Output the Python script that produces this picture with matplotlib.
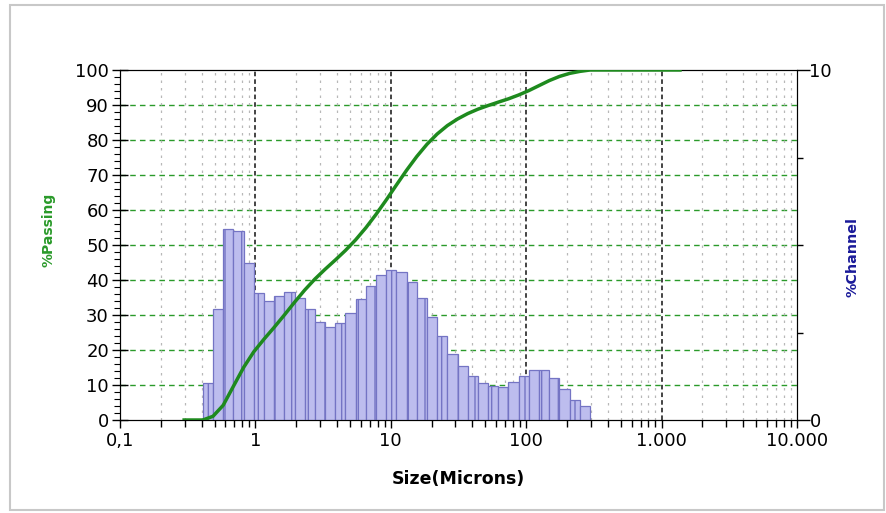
import numpy as np
import matplotlib
matplotlib.use("Agg")
from matplotlib import pyplot as plt
from matplotlib.patches import Rectangle

plt.rcParams['font.family'] = ['DejaVu Sans']
plt.rcParams['hatch.color'] = '#9a9ad6'

# channel edges (microns), fourth-root-of-2 series
edges = [0.409, 0.486, 0.578, 0.688, 0.818, 0.972, 1.156, 1.375, 1.635, 1.945,
         2.312, 2.75, 3.27, 3.889, 4.625, 5.5, 6.541, 7.778, 9.25, 11,
         13.08, 15.56, 18.5, 22, 26.16, 31.11, 37, 44, 52.33, 62.23,
         74, 88, 104.7, 124.5, 148, 176, 209.3, 248.9, 296]
# % in each channel
channel = [1.06, 3.16, 5.46, 5.40, 4.48, 3.62, 3.40, 3.54, 3.67, 3.50,
           3.16, 2.81, 2.65, 2.76, 3.05, 3.45, 3.84, 4.14, 4.30, 4.24,
           3.95, 3.50, 2.95, 2.41, 1.90, 1.55, 1.26, 1.05, 0.98, 0.95,
           1.10, 1.27, 1.43, 1.43, 1.19, 0.88, 0.57, 0.40]
line_start = 0.289
line_end = 1408

xtick_pos = [0.1, 1, 10, 100, 1000, 10000]
xtick_lab = ['0,1', '1', '10', '100', '1.000', '10.000']

edges_a = np.array(edges)
chan_a = np.array(channel)
passing = np.concatenate([[0], np.cumsum(chan_a)]) / chan_a.sum() * 100
line_x = np.concatenate([[line_start], edges_a, [line_end]])
line_y = np.concatenate([[0], passing, [100]])

fig = plt.figure(figsize=(8.87, 5.13), dpi=100)
fig.patches.append(Rectangle((10 / 887, 3 / 513), 874 / 887, 505 / 513, transform=fig.transFigure,
                             fill=False, edgecolor='#c8c8c8', linewidth=1.5))

ax = fig.add_axes([120 / 887, 1 - 420 / 513, 677 / 887, 350 / 513])
ax.set_xscale('log')
ax.set_xlim(0.1, 10000)
ax.set_ylim(0, 100)

# grid, drawn behind the bars
for v in range(10, 100, 10):
    ax.axhline(v, color='#2a9a2a', lw=1, ls=(0, (4, 3)), zorder=0)
for dec in [0.1, 1, 10, 100, 1000]:
    for m in range(2, 10):
        ax.axvline(dec * m, color='#b8b8b8', lw=0.9, ls=(0, (2, 4)), zorder=0)
for dec in [1, 10, 100, 1000]:
    ax.axvline(dec, color='#111111', lw=1.1, ls=(0, (3, 2)), zorder=0)

ax.set_xticks(xtick_pos, labels=xtick_lab)
ax.set_yticks(range(0, 101, 10))
ax.set_yticks(range(0, 101, 2), minor=True)
ax.tick_params(axis='y', which='major', direction='inout', length=12, width=1, labelsize=13, pad=2)
ax.tick_params(axis='y', which='minor', direction='out', length=4, width=0.8)
ax.tick_params(axis='x', which='major', direction='out', length=6, width=1, labelsize=13, pad=3)
ax.tick_params(axis='x', which='minor', direction='out', length=5, width=1, labelbottom=False)
ax.set_xlabel('Size(Microns)', fontsize=12.5, fontweight='bold', labelpad=14)
fig.text(49 / 887, 1 - 230 / 513, '%Passing', rotation=90, ha='center', va='center',
         fontsize=10, fontweight='bold', color='#2a9a2a')

# channel histogram on right axis
ax2 = ax.twinx()
ax2.set_ylim(0, 10)
ax2.bar(edges_a[:-1], chan_a, width=np.diff(edges_a), align='edge',
        color='#bdbdee', edgecolor='#7474c4', linewidth=0.9, hatch='|', zorder=2)
ax2.set_yticks([0, 10])
ax2.set_yticks([2.5, 5, 7.5], minor=True)
ax2.tick_params(axis='y', which='major', direction='out', length=9, width=1, labelsize=13, pad=0)
ax2.tick_params(axis='y', which='minor', direction='out', length=4, width=1)
fig.text(853 / 887, 1 - 257 / 513, '%Channel', rotation=90, ha='center', va='center',
         fontsize=10.3, fontweight='bold', color='#1a1a99')

# cumulative passing line on top
ax3 = ax.twinx()
ax3.set_ylim(0, 100)
ax3.set_xlim(0.1, 10000)
ax3.plot(line_x, line_y, color='#1e8a1e', lw=2.5, solid_capstyle='butt')
ax3.set_yticks([])
for s in ax3.spines.values():
    s.set_visible(False)

fig.savefig('out.png', dpi=100)
